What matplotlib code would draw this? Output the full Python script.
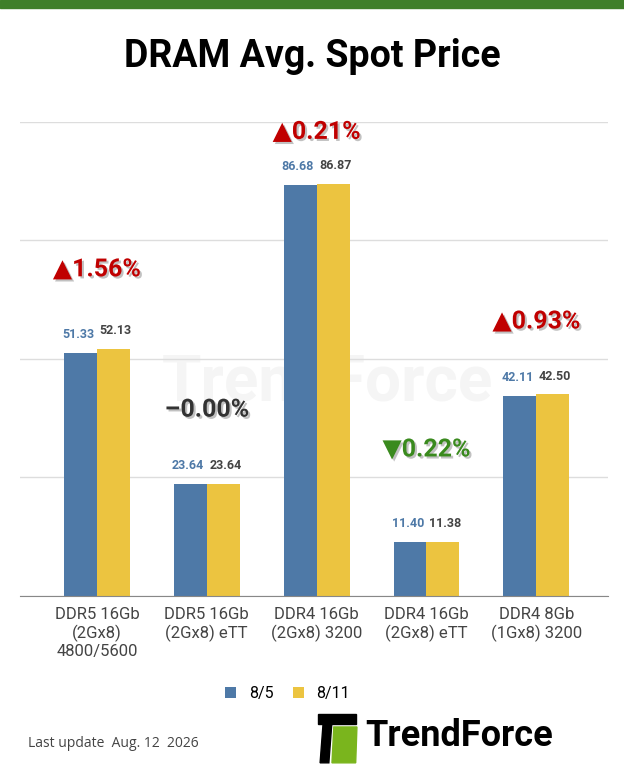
import matplotlib.pyplot as plt
import matplotlib.patheffects as pe
import numpy as np

plt.rcParams['font.family'] = ['Roboto', 'DejaVu Sans']

categories = ["DDR5 16Gb\n(2Gx8)\n4800/5600", "DDR5 16Gb\n(2Gx8) eTT", "DDR4 16Gb\n(2Gx8) 3200",
              "DDR4 16Gb\n(2Gx8) eTT", "DDR4 8Gb\n(1Gx8) 3200"]
prev = [51.33, 23.64, 86.68, 11.40, 42.11]
curr = [52.13, 23.64, 86.87, 11.38, 42.50]
changes = ["▲1.56%", "–0.00%", "▲0.21%", "▼0.22%", "▲0.93%"]
change_y = [68.9, 39.3, 97.9, 30.9, 57.9]
change_col = ["#c00000", "#333333", "#c00000", "#3a8a1e", "#c00000"]

blue = "#4e79a7"
yellow = "#ecc440"

fig = plt.figure(figsize=(6.24, 7.8), dpi=100)
fig.patches.append(plt.Rectangle((0, 0.99), 1, 0.01, transform=fig.transFigure, color="#3f7f2a"))
fig.text(0.5, 0.928, "DRAM Avg. Spot Price", ha="center", va="center", fontsize=27, fontweight="bold")

ax = fig.add_axes([0.032, 0.236, 0.942, 0.6077])
x = np.arange(len(categories))
w = 0.3
ax.bar(x - w/2, prev, w, color=blue, label="8/5")
ax.bar(x + w/2, curr, w, color=yellow, label="8/11")
for i in range(len(x)):
    ax.text(x[i] - w/2 - 0.02, prev[i] + 2.5, f"{prev[i]:.2f}", ha="center", va="bottom", fontsize=9, color=blue, fontweight="bold")
    ax.text(x[i] + w/2 + 0.02, curr[i] + 2.5, f"{curr[i]:.2f}", ha="center", va="bottom", fontsize=9, color="#444444", fontweight="bold")
    ax.text(x[i], change_y[i], changes[i], ha="center", va="center", fontsize=18, fontweight="bold",
            color=change_col[i],
            path_effects=[pe.withSimplePatchShadow(offset=(1.5, -1.5), shadow_rgbFace="#999999", alpha=0.6)])

ax.text(2.1, 45, "TrendForce", ha="center", va="center", fontsize=46, fontweight="bold", color="#f5f5f5", zorder=0)
ax.set_xlim(-0.7, 4.65)
ax.set_ylim(0, 100)
ax.set_yticks([0, 25, 50, 75, 100])
ax.set_yticklabels([])
ax.tick_params(length=0, pad=8)
ax.grid(axis="y", color="#dddddd", lw=1)
ax.set_axisbelow(True)
for s in ["top", "right", "left"]:
    ax.spines[s].set_visible(False)
ax.spines["bottom"].set_color("#888888")
ax.set_xticks(x)
ax.set_xticklabels(categories, fontsize=12, color="#444444", linespacing=1.2)
ax.legend(loc="upper center", bbox_to_anchor=(0.455, -0.16), ncol=2, frameon=False, fontsize=11.5,
          handlelength=0.7, handleheight=0.7, columnspacing=1.2)

fig.text(0.045, 0.047, "Last update  Aug. 12  2026", fontsize=10, color="#444444", va="center",
         family=["Open Sans", "DejaVu Sans"])
# logo
fig.patches.append(plt.Polygon([[0.513, 0.022], [0.527, 0.022], [0.532, 0.075], [0.518, 0.075]], transform=fig.transFigure, color="black"))
fig.patches.append(plt.Rectangle((0.51, 0.072), 0.06, 0.012, transform=fig.transFigure, color="black"))
fig.patches.append(plt.Polygon([[0.532, 0.022], [0.57, 0.022], [0.572, 0.068], [0.535, 0.068]], transform=fig.transFigure, color="#7ab51d"))
fig.text(0.585, 0.057, "TrendForce", fontsize=26, fontweight="bold", va="center")

fig.savefig("out.png", dpi=100, facecolor="white")
